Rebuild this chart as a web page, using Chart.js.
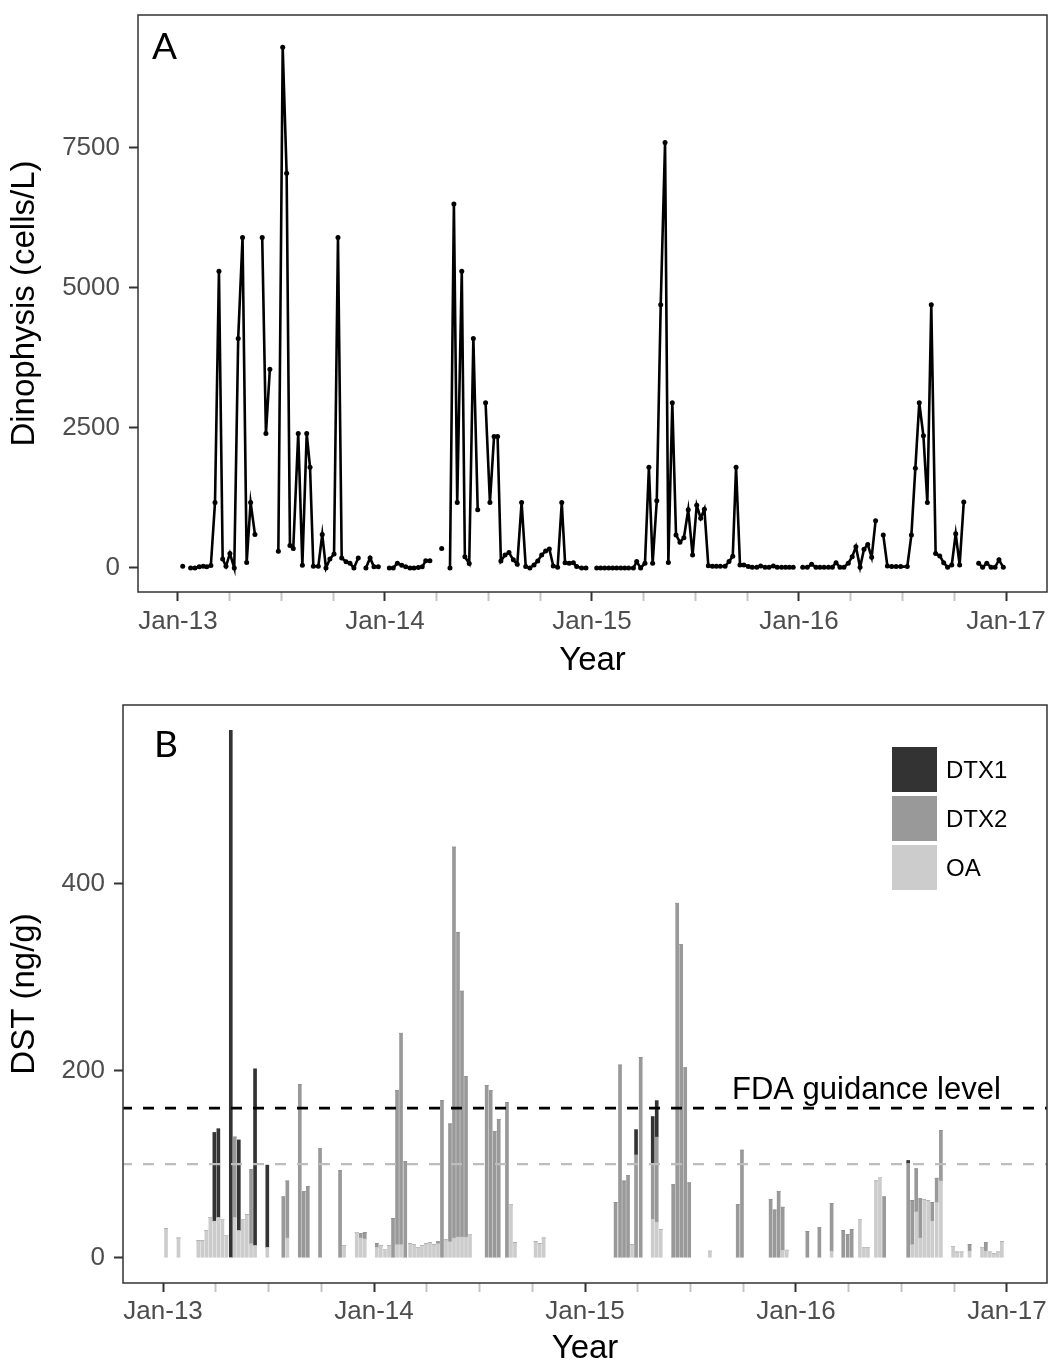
<!DOCTYPE html>
<html lang="en">
<head>
<meta charset="UTF-8" />
<title>Dinophysis and DST</title>
<script src="https://cdn.jsdelivr.net/npm/chart.js"></script>
<style>
  body { margin: 0; background: #fff; }
  #wrap { position: relative; width: 1052px; height: 1365px; }
  canvas { position: absolute; left: 0; }
  #chartA { top: 0; }
  #chartB { top: 685px; }
</style>
</head>
<body>
<div id="wrap">
  <canvas id="chartA" width="1052" height="685"></canvas>
  <canvas id="chartB" width="1052" height="680"></canvas>
</div>
<script>
// Panel A: Dinophysis counts, decimal year + cells/L (null = sampling gap)
const dinoYears = [
  2013.023, 2013.042, 2013.061, 2013.082, 2013.103, 2013.122, 2013.139, 2013.159, 2013.179, 2013.198,
  2013.216, 2013.232, 2013.251, 2013.272, 2013.291, 2013.312, 2013.332, 2013.351, 2013.372, 2013.390,
  2013.407, 2013.425, 2013.444, 2013.465, 2013.485, 2013.506, 2013.525, 2013.541, 2013.557, 2013.581,
  2013.601, 2013.622, 2013.638, 2013.654, 2013.678, 2013.697, 2013.715, 2013.734, 2013.754, 2013.773,
  2013.791, 2013.812, 2013.831, 2013.850, 2013.871, 2013.890, 2013.908, 2013.928, 2013.947, 2013.968,
  2013.995, 2014.021, 2014.040, 2014.060, 2014.081, 2014.100, 2014.121, 2014.140, 2014.161, 2014.180,
  2014.197, 2014.217, 2014.245, 2014.274, 2014.294, 2014.314, 2014.333, 2014.349, 2014.371, 2014.386,
  2014.407, 2014.427, 2014.448, 2014.467, 2014.486, 2014.507, 2014.527, 2014.544, 2014.560, 2014.580,
  2014.599, 2014.620, 2014.639, 2014.660, 2014.680, 2014.700, 2014.720, 2014.738, 2014.757, 2014.776,
  2014.794, 2014.813, 2014.834, 2014.854, 2014.870, 2014.890, 2014.910, 2014.926, 2014.950, 2014.971,
  2014.997, 2015.023, 2015.042, 2015.061, 2015.081, 2015.100, 2015.119, 2015.139, 2015.158, 2015.177,
  2015.200, 2015.216, 2015.235, 2015.256, 2015.275, 2015.293, 2015.313, 2015.332, 2015.353, 2015.369,
  2015.388, 2015.406, 2015.425, 2015.444, 2015.465, 2015.486, 2015.506, 2015.525, 2015.543, 2015.562,
  2015.582, 2015.601, 2015.620, 2015.643, 2015.662, 2015.680, 2015.696, 2015.715, 2015.734, 2015.755,
  2015.774, 2015.796, 2015.815, 2015.836, 2015.855, 2015.876, 2015.895, 2015.916, 2015.935, 2015.953,
  2015.972, 2015.995, 2016.018, 2016.040, 2016.061, 2016.082, 2016.101, 2016.121, 2016.142, 2016.161,
  2016.179, 2016.198, 2016.217, 2016.238, 2016.257, 2016.275, 2016.295, 2016.314, 2016.332, 2016.351,
  2016.370, 2016.389, 2016.407, 2016.427, 2016.448, 2016.469, 2016.491, 2016.523, 2016.543, 2016.562,
  2016.581, 2016.601, 2016.620, 2016.639, 2016.660, 2016.680, 2016.699, 2016.718, 2016.738, 2016.757,
  2016.776, 2016.796, 2016.830, 2016.868, 2016.887, 2016.907, 2016.928, 2016.947, 2016.966, 2016.987
];
const dinoCells = [
  30, null, 0, 0, 20, 33, 20, 46, 1170, 5300,
  160, 30, 260, 0, 4100, 5900, 100, 1170, 600, null,
  5900, 2400, 3550, null, 300, 9300, 7050, 400, 350, 2400,
  50, 2400, 1800, 30, 30, 600, 0, 160, 250, 5900,
  180, 110, 85, 0, 180, null, 0, 180, 20, 20,
  null, 0, 0, 85, 50, 20, 0, 0, 10, 20,
  130, 130, null, 350, null, 0, 6500, 1170, 5300, 200,
  80, 4100, 1040, null, 2950, 1170, 2350, 2350, 125, 230,
  275, 145, 65, 1170, 25, 0, 55, 125, 230, 305,
  340, 35, 12, 1170, 95, 85, 95, 25, 0, 0,
  null, 0, 0, 0, 0, 0, 0, 0, 0, 0,
  0, 115, 0, 85, 1800, 85, 1200, 4700, 7600, 100,
  2950, 590, 460, 540, 1040, 230, 1120, 890, 1050, 40,
  30, 30, 30, 30, 115, 210, 1800, 55, 55, 25,
  12, 12, 35, 12, 12, 35, 12, 12, 12, 12,
  12, null, 12, 12, 65, 12, 12, 12, 12, 12,
  95, 12, 12, 85, 200, 380, 12, 335, 420, 190,
  845, null, 590, 35, 25, 25, 25, 25, 590, 1780,
  2950, 2360, 1170, 4700, 260, 215, 95, 12, 55, 610,
  55, 1180, null, 85, 12, 85, 12, 12, 145, 12
];
const dinoTicks = [0, 2500, 5000, 7500];

// Panel B: DST in shellfish by toxin, ng/g (stacked)
const dstYears = [
  2013.014, 2013.073, 2013.167, 2013.186, 2013.205, 2013.224, 2013.243, 2013.262, 2013.281, 2013.300,
  2013.321, 2013.340, 2013.359, 2013.378, 2013.397, 2013.417, 2013.436, 2013.494, 2013.570, 2013.589,
  2013.648, 2013.667, 2013.686, 2013.744, 2013.839, 2013.858, 2013.918, 2013.937, 2013.956,
  2014.013, 2014.032, 2014.052, 2014.071, 2014.090, 2014.109, 2014.128, 2014.148, 2014.171, 2014.190,
  2014.209, 2014.227, 2014.246, 2014.265, 2014.284, 2014.303, 2014.322, 2014.341, 2014.360, 2014.379,
  2014.398, 2014.417, 2014.436, 2014.455, 2014.534, 2014.553, 2014.572, 2014.591, 2014.630, 2014.649,
  2014.668, 2014.766, 2014.785, 2014.804,
  2015.145, 2015.166, 2015.185, 2015.204, 2015.223, 2015.242, 2015.264, 2015.321, 2015.340, 2015.359,
  2015.418, 2015.437, 2015.456, 2015.475, 2015.494, 2015.592, 2015.724, 2015.744, 2015.880, 2015.899,
  2015.918, 2015.937, 2015.956,
  2016.054, 2016.111, 2016.169, 2016.224, 2016.245, 2016.264, 2016.303, 2016.322, 2016.341, 2016.379,
  2016.398, 2016.418, 2016.532, 2016.551, 2016.570, 2016.589, 2016.608, 2016.627, 2016.646, 2016.667,
  2016.687, 2016.745, 2016.764, 2016.785, 2016.823, 2016.882, 2016.900, 2016.919, 2016.938, 2016.957,
  2016.976
];
const oaValues = [
  31, 21, 18, 18, 29, 43, 39, 43, 41, 24,
  0, 43, 29, 41, 46, 15, 13, 11, 0, 21,
  0, 0, 0, 0, 0, 13, 27, 21, 20,
  11, 13, 9, 13, 0, 14, 14, 0, 15, 14,
  11, 13, 15, 16, 14, 15, 0, 19, 17, 21,
  22, 22, 22, 25, 0, 0, 0, 0, 0, 57,
  16, 17, 15, 21,
  0, 0, 0, 0, 14, 0, 0, 41, 38, 30,
  0, 0, 0, 0, 0, 7, 0, 0, 0, 0,
  0, 8, 8,
  0, 0, 7, 0, 0, 0, 41, 11, 11, 82,
  86, 0, 0, 14, 49, 21, 62, 61, 39, 59,
  82, 12, 6, 6, 7, 11, 7, 6, 4, 6,
  17
];
const dtx2Values = [
  0, 0, 0, 0, 0, 0, 0, 0, 0, 0,
  0, 86, 0, 0, 0, 79, 0, 0, 65, 61,
  185, 71, 76, 117, 93, 0, 0, 5, 7,
  4, 0, 0, 0, 42, 165, 226, 103, 0, 0,
  0, 0, 0, 0, 0, 2, 168, 0, 126, 418,
  326, 263, 172, 0, 184, 179, 135, 148, 166, 0,
  0, 0, 0, 0,
  59, 206, 82, 88, 0, 110, 214, 59, 91, 0,
  78, 379, 335, 203, 80, 0, 57, 115, 62, 51,
  71, 46, 0,
  28, 32, 51, 29, 25, 30, 0, 0, 0, 0,
  0, 65, 101, 47, 46, 42, 0, 0, 20, 26,
  54, 0, 0, 0, 7, 0, 9, 0, 0, 0,
  0
];
const dtx1Values = [
  0, 0, 0, 0, 0, 0, 95, 95, 0, 0,
  564, 0, 97, 0, 0, 0, 189, 88, 0, 0,
  0, 0, 0, 0, 0, 0, 0, 0, 0,
  0, 0, 0, 0, 0, 0, 0, 0, 0, 0,
  0, 0, 0, 0, 0, 0, 0, 0, 0, 0,
  0, 0, 0, 0, 0, 0, 0, 0, 0, 0,
  0, 0, 0, 0,
  0, 0, 0, 0, 0, 27, 0, 51, 39, 0,
  0, 0, 0, 0, 0, 0, 0, 0, 0, 0,
  0, 0, 0,
  0, 0, 0, 0, 0, 0, 0, 0, 0, 0,
  0, 0, 3, 0, 0, 0, 0, 0, 0, 0,
  0, 0, 0, 0, 0, 0, 0, 0, 0, 0,
  0
];
const dstTicks = [0, 200, 400];
const fdaLevel = 160;
const refLevel = 100;
const legendLabels = ['DTX1', 'DTX2', 'OA'];
const legendColors = ['#333333', '#999999', '#cccccc'];

const FONT = "'Liberation Sans', Arial, sans-serif";

function quarterTicks(scale) {
  const t = [];
  for (let q = 2013; q <= 2017; q += 0.25) t.push({ value: q });
  scale.ticks = t;
}

function yearLabel(v) {
  return Number.isInteger(v) ? 'Jan-' + String(v).slice(2) : '';
}

function xAxis(min, max, h, pad, titlePad) {
  return {
    type: 'linear', min: min, max: max, offset: false,
    afterBuildTicks: quarterTicks,
    afterFit: s => { s.height = h; s.paddingLeft = 0; s.paddingRight = 0; },
    ticks: { autoSkip: false, maxRotation: 0, padding: pad, color: '#4d4d4d',
             font: { family: FONT, size: 26 }, callback: yearLabel },
    grid: { offset: false, drawOnChartArea: false, tickLength: 9, tickWidth: 2,
            color: c => (c.tick && Number.isInteger(c.tick.value)) ? '#333333' : '#c4c4c4' },
    border: { display: false },
    title: { display: true, text: 'Year', color: '#000',
             font: { family: FONT, size: 33, lineHeight: 1 }, padding: { top: 0, bottom: titlePad } }
  };
}

function yAxis(min, max, w, ticks, label) {
  return {
    min: min, max: max,
    afterBuildTicks: s => { s.ticks = ticks.map(v => ({ value: v })); },
    afterFit: s => { s.width = w; s.paddingTop = 0; s.paddingBottom = 0; },
    ticks: { padding: 9, color: '#4d4d4d', font: { family: FONT, size: 26 },
             callback: v => String(v) },
    grid: { drawOnChartArea: false, tickLength: 9, tickWidth: 2, color: '#333333' },
    border: { display: false },
    title: { display: true, text: label, color: '#000',
             font: { family: FONT, size: 33, lineHeight: 1 }, padding: { top: 8, bottom: 0 } }
  };
}

// frame round the panel plus the A / B tag
const panelFrame = {
  id: 'panelFrame',
  afterDraw(chart, args, o) {
    const { ctx, chartArea: a } = chart;
    ctx.save();
    ctx.strokeStyle = '#333333';
    ctx.lineWidth = 1.5;
    ctx.strokeRect(a.left, a.top, a.right - a.left, a.bottom - a.top);
    ctx.fillStyle = '#000';
    ctx.font = "37px Lato, 'Liberation Sans', sans-serif";
    ctx.textAlign = 'left';
    ctx.textBaseline = 'alphabetic';
    ctx.fillText(o.letter, a.left + o.dx, a.top + o.dy);
    ctx.restore();
  }
};

const dstExtras = {
  id: 'dstExtras',
  afterDraw(chart) {
    const { ctx, scales: { y } } = chart;
    ctx.save();
    ctx.fillStyle = '#000';
    ctx.font = '31px ' + FONT;
    ctx.textAlign = 'left';
    ctx.textBaseline = 'alphabetic';
    ctx.fillText('FDA guidance level', 732, y.getPixelForValue(fdaLevel) - 9);
    ctx.font = '24px ' + FONT;
    ctx.textBaseline = 'middle';
    legendLabels.forEach((lab, i) => {
      const top = 62 + i * 49;
      ctx.fillStyle = legendColors[i];
      ctx.fillRect(892, top, 45, 45);
      ctx.fillStyle = '#000';
      ctx.fillText(lab, 946, top + 24);
    });
    ctx.restore();
  }
};

const xMinA = 2012.807, xMaxA = 2017.198;
const xMinB = 2012.810, xMaxB = 2017.190;

new Chart(document.getElementById('chartA'), {
  type: 'line',
  data: {
    datasets: [{
      data: dinoYears.map((t, i) => ({ x: t, y: dinoCells[i] })),
      borderColor: '#000', borderWidth: 2.6,
      pointRadius: 2.5, pointBackgroundColor: '#000', pointBorderWidth: 0,
      spanGaps: false, tension: 0
    }]
  },
  options: {
    responsive: false, animation: false,
    layout: { padding: { top: 15, right: 5, left: 0, bottom: 0 } },
    plugins: { legend: { display: false }, tooltip: { enabled: false },
               panelFrame: { letter: 'A', dx: 14, dy: 44 } },
    scales: {
      x: xAxis(xMinA, xMaxA, 93, 5, 8),
      y: yAxis(-429, 9875, 138, dinoTicks, 'Dinophysis (cells/L)')
    }
  },
  plugins: [panelFrame]
});

const stackOf = (vals, label, color) => ({
  label: label, backgroundColor: color, borderWidth: 0, barThickness: 3,
  data: dstYears.map((t, i) => ({ x: t, y: vals[i] }))
});

new Chart(document.getElementById('chartB'), {
  type: 'bar',
  data: {
    datasets: [
      stackOf(oaValues, 'OA', '#cccccc'),
      stackOf(dtx2Values, 'DTX2', '#999999'),
      stackOf(dtx1Values, 'DTX1', '#333333'),
      { type: 'line', stack: 'fda', order: -1, data: [{ x: xMinB, y: fdaLevel }, { x: xMaxB, y: fdaLevel }],
        borderColor: '#000', borderWidth: 2.6, borderDash: [11, 11], borderDashOffset: 2, pointRadius: 0 },
      { type: 'line', stack: 'ref', order: -1, data: [{ x: xMinB, y: refLevel }, { x: xMaxB, y: refLevel }],
        borderColor: '#bdbdbd', borderWidth: 2.2, borderDash: [11, 11], borderDashOffset: 2, pointRadius: 0 }
    ]
  },
  options: {
    responsive: false, animation: false,
    layout: { padding: { top: 20, right: 5, left: 0, bottom: 0 } },
    plugins: { legend: { display: false }, tooltip: { enabled: false },
               panelFrame: { letter: 'B', dx: 31, dy: 52 } },
    scales: {
      x: Object.assign(xAxis(xMinB, xMaxB, 82, 4, 0), { stacked: true }),
      y: Object.assign(yAxis(-27, 591, 123, dstTicks, 'DST (ng/g)'), { stacked: true })
    }
  },
  plugins: [panelFrame, dstExtras]
});
</script>
</body>
</html>
